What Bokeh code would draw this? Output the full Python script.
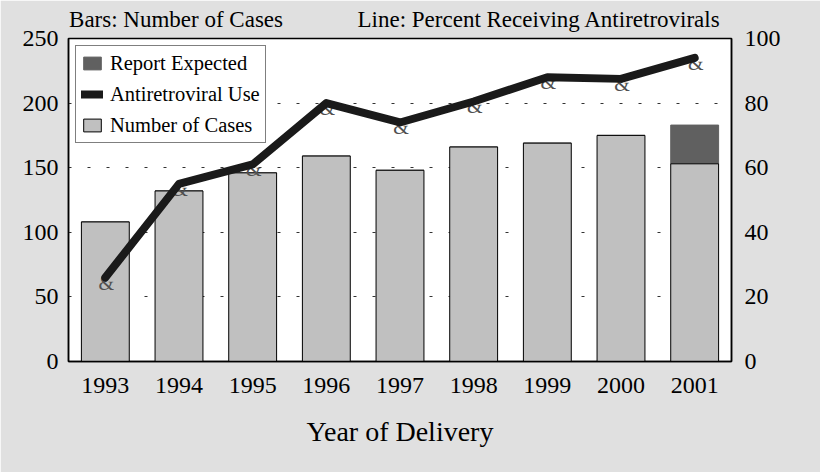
from bokeh.plotting import figure
from bokeh.models import (Range1d, LinearAxis, FixedTicker, Legend, LegendItem)
from bokeh.core.properties import value
from bokeh.embed import file_html
from bokeh.resources import INLINE

years = ["1993", "1994", "1995", "1996", "1997", "1998", "1999", "2000", "2001"]
cases = [108, 132, 146, 159, 148, 166, 169, 175, 153]
expected = [0, 0, 0, 0, 0, 0, 0, 0, 30]
arv_pct = [26, 55, 61, 80, 74, 80.5, 88, 87.5, 94]
left_ticks = [0, 50, 100, 150, 200, 250]
right_ticks = [0, 20, 40, 60, 80, 100]
captions = ["Bars: Number of Cases", "Line: Percent Receiving Antiretrovirals"]
# caption centres, in category units of the x axis
caption_pos = [0.96, 5.89]

FONT = "Liberation Serif"
BG = "#e0e0e0"

xs = list(range(len(years)))

p = figure(width=820, height=472, x_range=Range1d(-0.5, len(years) - 0.5),
           y_range=Range1d(0, 250), output_backend="svg", toolbar_location=None,
           min_border_left=68, min_border_right=89, min_border_top=38, min_border_bottom=111)
p.border_fill_color = BG
p.background_fill_color = "white"
p.outline_line_color = "black"
p.outline_line_width = 1.5
p.extra_y_ranges = {"pct": Range1d(0, 100)}

p.xgrid.grid_line_color = None
p.ygrid.ticker = FixedTicker(ticks=[50, 100, 150, 200])
p.ygrid.grid_line_color = "#333333"
p.ygrid.grid_line_dash = "3 16"
p.ygrid.grid_line_width = 1

for ax in [p.yaxis[0], p.xaxis[0]]:
    ax.axis_line_color = "black"
    ax.axis_line_width = 1.5
    ax.major_tick_line_color = None
    ax.minor_tick_line_color = None
    ax.major_label_text_font = FONT
    ax.major_label_text_font_size = "24px"
    ax.major_label_text_color = "black"
p.yaxis[0].ticker = FixedTicker(ticks=left_ticks)
p.yaxis[0].major_label_standoff = 4
p.xaxis[0].ticker = FixedTicker(ticks=xs)
p.xaxis[0].major_label_overrides = {i: y for i, y in zip(xs, years)}
p.xaxis[0].major_label_standoff = 10
p.xaxis[0].axis_label = "Year of Delivery"
p.xaxis[0].axis_label_text_font = FONT
p.xaxis[0].axis_label_text_font_size = "28px"
p.xaxis[0].axis_label_text_font_style = "normal"
p.xaxis[0].axis_label_text_color = "black"
p.xaxis[0].axis_label_standoff = 20

rax = LinearAxis(y_range_name="pct", ticker=FixedTicker(ticks=right_ticks))
rax.axis_line_color = "black"
rax.axis_line_width = 1.5
rax.major_tick_line_color = None
rax.minor_tick_line_color = None
rax.major_label_text_font = FONT
rax.major_label_text_font_size = "24px"
rax.major_label_text_color = "black"
rax.major_label_standoff = 7
p.add_layout(rax, "right")

# captions above the plot, drawn as labels of a bare top axis
cax = LinearAxis(ticker=FixedTicker(ticks=caption_pos),
                 major_label_overrides={caption_pos[0]: captions[0], caption_pos[1]: captions[1]})
cax.axis_line_color = None
cax.major_tick_line_color = None
cax.minor_tick_line_color = None
cax.major_label_text_font = FONT
cax.major_label_text_font_size = "23px"
cax.major_label_text_color = "black"
cax.major_label_standoff = 1
p.add_layout(cax, "above")

totals = [c + e for c, e in zip(cases, expected)]
exp_r = p.vbar(x=xs, bottom=cases, top=totals, width=0.65, fill_color="#606060",
               line_color="#606060", line_width=1)
case_r = p.vbar(x=xs, top=cases, width=0.65, fill_color="#c0c0c0",
                line_color="black", line_width=1)

p.text(x=xs, y=arv_pct, text=["&"] * len(years), y_range_name="pct",
       text_font=value(FONT), text_font_size="20px", text_color="#505050",
       text_align="center", text_baseline="middle", x_offset=1, y_offset=5)
line_r = p.line(x=xs, y=arv_pct, y_range_name="pct", line_color="#1a1a1a",
                line_width=8, line_join="round", line_cap="round")

legend = Legend(items=[
    LegendItem(label="Report Expected", renderers=[exp_r]),
    LegendItem(label="Antiretroviral Use", renderers=[line_r]),
    LegendItem(label="Number of Cases", renderers=[case_r]),
], location="top_left")
legend.label_text_font = FONT
legend.label_text_font_size = "20.5px"
legend.label_text_color = "black"
legend.border_line_color = "black"
legend.border_line_width = 1.5
legend.background_fill_color = "white"
legend.background_fill_alpha = 1
legend.margin = 7
legend.padding = 5
legend.spacing = 7
legend.glyph_width = 22
legend.glyph_height = 16
legend.label_height = 24
legend.label_standoff = 7
p.add_layout(legend, "center")

open("out.html", "w").write(file_html(p, INLINE))
